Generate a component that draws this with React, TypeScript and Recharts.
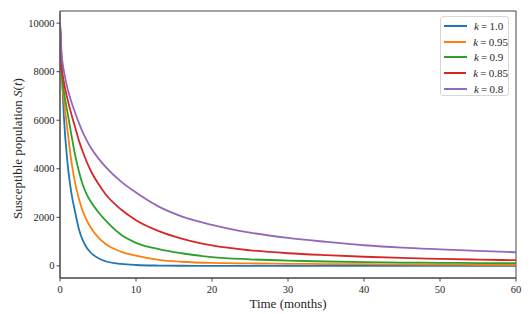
import React from 'react'
import {
  LineChart, Line, XAxis, YAxis, ReferenceArea, Label,
} from 'recharts'

// time grid (months) the values were read at
const TIME = [0, 0.25, 0.5, 1, 1.5, 2, 2.5, 3, 3.5, 4, 5, 6, 8, 10, 13, 16, 20, 25, 30, 35, 40, 45, 50, 55, 60]

// S(t), one list per fractional order k
const S_K100 = [10000, 7900, 6200, 4200, 3000, 2200, 1500, 1050, 760, 560, 320, 190, 80, 35, 12, 4, 1, 0, 0, 0, 0, 0, 0, 0, 0]
const S_K095 = [10000, 7700, 6900, 5550, 4300, 3400, 2750, 2250, 1880, 1600, 1180, 900, 590, 420, 250, 170, 120, 100, 85, 75, 68, 60, 52, 46, 40]
const S_K090 = [10000, 7900, 7200, 6300, 5400, 4550, 3880, 3340, 2960, 2670, 2230, 1870, 1290, 950, 690, 520, 360, 270, 215, 180, 150, 135, 125, 115, 110]
const S_K085 = [10000, 8200, 7600, 6850, 6250, 5700, 5150, 4700, 4300, 3950, 3400, 2950, 2330, 1880, 1430, 1120, 840, 640, 520, 440, 375, 325, 290, 258, 233]
const S_K080 = [10000, 8600, 8050, 7300, 6750, 6300, 5880, 5500, 5180, 4900, 4450, 4080, 3480, 3020, 2440, 2040, 1690, 1370, 1150, 990, 850, 750, 680, 615, 560]

const X_TICKS = [0, 10, 20, 30, 40, 50, 60]
const Y_TICKS = [0, 2000, 4000, 6000, 8000, 10000]

const SERIES = [
  { key: 'k100', k: '1.0',  color: '#1f77b4', values: S_K100 },
  { key: 'k095', k: '0.95', color: '#ff7f0e', values: S_K095 },
  { key: 'k090', k: '0.9',  color: '#2ca02c', values: S_K090 },
  { key: 'k085', k: '0.85', color: '#d62728', values: S_K085 },
  { key: 'k080', k: '0.8',  color: '#9467bd', values: S_K080 },
]

const data = TIME.map((t, i) => {
  const row: Record<string, number> = { t }
  SERIES.forEach(s => { row[s.key] = s.values[i] })
  return row
})

const FONT = '"Liberation Serif", "DejaVu Serif", serif'
const INK = '#262626'
const SPINE = '#444'

// matplotlib-style legend box, drawn over the plot's top-right corner
function LegendBox() {
  return (
    <div style={{
      position: 'absolute', left: 440, top: 16, width: 69, height: 80,
      border: '1px solid #d6d6d6', borderRadius: 3, background: 'rgba(255,255,255,0.8)',
      fontFamily: FONT, fontSize: 11, color: INK, boxSizing: 'border-box',
      paddingTop: 1,
    }}>
      {SERIES.map(s => (
        <div key={s.key} style={{ display: 'flex', alignItems: 'center', height: 15.7, whiteSpace: 'nowrap' }}>
          <span style={{ display: 'inline-block', width: 23, height: 2, background: s.color, marginLeft: 3, marginRight: 7 }} />
          <span><i>k</i>{'\u2009=\u2009'}{s.k}</span>
        </div>
      ))}
    </div>
  )
}

function XTick({ x, y, payload }: any) {
  return (
    <text x={x} y={y} dy={9} textAnchor="middle" fontFamily={FONT} fontSize={10.5} fill={INK}>
      {payload.value}
    </text>
  )
}

function YTick({ x, y, payload }: any) {
  return (
    <text x={x} y={y} dy={3.5} textAnchor="end" fontFamily={FONT} fontSize={10.5} fill={INK}>
      {payload.value}
    </text>
  )
}

function YTitle({ viewBox }: any) {
  const cx = 17
  const cy = viewBox.y + viewBox.height / 2 + 4
  return (
    <text x={cx} y={cy} transform={`rotate(-90 ${cx} ${cy})`} textAnchor="middle"
      dominantBaseline="central" fontFamily={FONT} fontSize={13} fill={INK}>
      Susceptible population <tspan fontStyle="italic">S</tspan>(<tspan fontStyle="italic">t</tspan>)
    </text>
  )
}

export default function App() {
  return (
    <div style={{ position: 'absolute', left: 0, top: 0, width: 532, height: 314, background: '#fff', fontFamily: FONT }}>
      <LineChart width={532} height={314} data={data} style={{ fontFamily: FONT }}
        margin={{ top: 11, right: 16, bottom: 0, left: 0 }}>
        <ReferenceArea x1={0} x2={60} y1={-500} y2={10500}
          fill="none" stroke={SPINE} strokeWidth={1} ifOverflow="visible" />
        <XAxis dataKey="t" type="number" domain={[0, 60]} ticks={X_TICKS}
          allowDataOverflow height={36} tick={<XTick />}
          tickSize={3.5} tickMargin={2}
          axisLine={{ stroke: SPINE }} tickLine={{ stroke: SPINE }}>
          <Label value="Time (months)" position="insideBottom" offset={6}
            style={{ fontFamily: FONT, fontSize: 13, fill: INK }} />
        </XAxis>
        <YAxis type="number" domain={[-500, 10500]} ticks={Y_TICKS}
          allowDataOverflow width={60} tick={<YTick />}
          tickSize={3.5} tickMargin={2}
          axisLine={{ stroke: SPINE }} tickLine={{ stroke: SPINE }}
          label={<YTitle />} />
        {SERIES.map(s => (
          <Line key={s.key} dataKey={s.key} name={`k = ${s.k}`} type="monotone"
            stroke={s.color} strokeWidth={1.8} dot={false} isAnimationActive={false} />
        ))}
      </LineChart>
      <LegendBox />
    </div>
  )
}
